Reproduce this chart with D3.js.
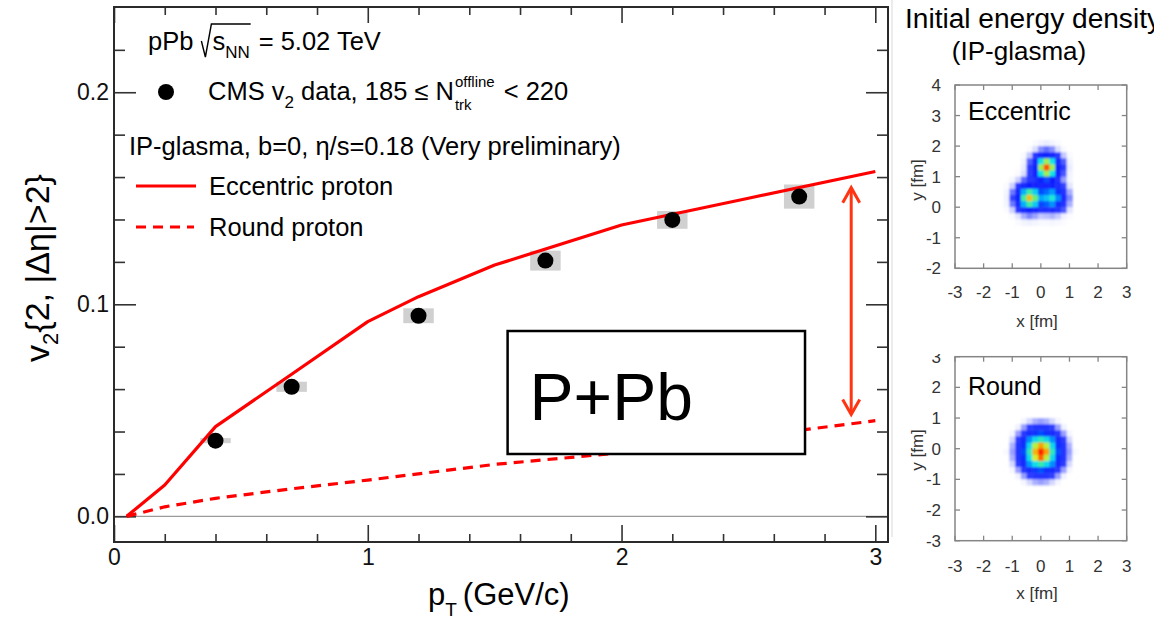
<!DOCTYPE html>
<html><head><meta charset="utf-8">
<script src="https://cdn.jsdelivr.net/npm/d3@7"></script>
<style>
html,body{margin:0;padding:0;background:#fff;}
svg{display:block;}
text{font-family:"Liberation Sans",Arial,Helvetica,sans-serif;}
</style></head><body>
<svg id="c" width="1154" height="620"></svg>
<script>
// ---------------- data ----------------
const cmsPt  = [0.4, 0.7, 1.2, 1.7, 2.2, 2.7];
const cmsV2  = [0.0357, 0.0611, 0.0946, 0.1206, 0.1398, 0.1508];
const cmsSys = [0.0012, 0.0024, 0.0035, 0.0047, 0.0042, 0.0057];
const cmsSysHalfWidth = 0.06;

const eccPt = [0.05, 0.2, 0.4, 0.7, 1.0, 1.2, 1.5, 2.0, 2.5, 3.0];
const eccV2 = [0, 0.0148, 0.0423, 0.067, 0.0918, 0.1036, 0.1185, 0.1374, 0.150, 0.1626];

const roundPt = [0.05, 0.2, 0.4, 0.7, 1.0, 1.5, 2.0, 2.5, 3.0];
const roundV2 = [0, 0.0045, 0.0085, 0.013, 0.0171, 0.0245, 0.0300, 0.0375, 0.0451];

const xMajorTicks = [0, 1, 2, 3];
const xMinorTicks = [0.2,0.4,0.6,0.8,1.2,1.4,1.6,1.8,2.2,2.4,2.6,2.8];
const yMajorTicks = [0.0, 0.1, 0.2];
const yMinorTicks = [0.02,0.04,0.06,0.08,0.12,0.14,0.16,0.18,0.22];

const arrowPt = 2.905, arrowTop = 0.155, arrowBottom = 0.048;
const boxPt = [1.551, 2.723], boxV2 = [0.0874, 0.0294];

// heat maps: energy density (arbitrary units 0..1), cell size 0.2 fm
const eccX = [-1.2,-1.0,-0.8,-0.6,-0.4,-0.2,0.0,0.2,0.4,0.6,0.8,1.0];
const eccY = [2.1,1.9,1.7,1.5,1.3,1.1,0.9,0.7,0.5,0.3,0.1,-0.1,-0.3,-0.5];
const eccVals = [
 [0,0,0,0,0,.004,.009,.012,.009,.004,0,0],
 [0,0,0,0,.004,.018,.045,.055,.045,.018,.004,0],
 [0,0,0,.004,.026,.103,.234,.307,.234,.103,.026,.004],
 [0,0,0,.009,.06,.234,.534,.70,.534,.234,.06,.009],
 [0,0,.001,.012,.078,.307,.70,.92,.70,.307,.078,.012],
 [0,0,.003,.017,.070,.242,.539,.705,.541,.239,.062,.009],
 [.001,.006,.022,.056,.095,.159,.271,.349,.282,.139,.041,.008],
 [.003,.022,.090,.203,.275,.244,.212,.240,.247,.166,.068,.015],
 [.008,.052,.203,.464,.613,.504,.352,.383,.435,.323,.140,.036],
 [.010,.068,.267,.609,.807,.655,.451,.486,.560,.418,.184,.047],
 [.008,.052,.203,.464,.613,.500,.343,.371,.426,.319,.140,.036],
 [.003,.022,.090,.203,.269,.218,.152,.162,.187,.140,.062,.015],
 [0,.004,.015,.036,.048,.039,.026,.029,.034,.025,.010,.003],
 [0,0,.003,.008,.010,.008,.005,.005,.007,.005,.002,0]
];
const rndX = [-1.2,-1.0,-0.8,-0.6,-0.4,-0.2,0.0,0.2,0.4,0.6,0.8,1.0,1.2];
const rndY = [1.1,0.9,0.7,0.5,0.3,0.1,-0.1,-0.3,-0.5,-0.7,-0.9,-1.1,-1.3];
const rndVals = [
 [0,0,0,0,0,0,0,0,0,0,0,0,0],
 [0,0,0,.007,.02,.035,.04,.035,.02,.007,0,0,0],
 [0,0,.01,.04,.07,.11,.12,.11,.07,.04,.01,0,0],
 [0,.007,.04,.09,.20,.32,.35,.32,.20,.09,.04,.007,0],
 [0,.02,.07,.20,.42,.52,.58,.52,.42,.20,.07,.02,0],
 [0,.035,.11,.32,.52,.72,.84,.72,.52,.32,.11,.035,0],
 [.005,.04,.12,.35,.58,.82,1.0,.84,.58,.35,.12,.04,.005],
 [0,.035,.11,.32,.53,.74,.90,.72,.52,.32,.11,.035,0],
 [0,.02,.07,.21,.43,.53,.60,.52,.42,.20,.07,.02,0],
 [0,.007,.04,.10,.21,.33,.36,.32,.20,.09,.04,.007,0],
 [0,0,.01,.04,.08,.12,.13,.11,.07,.04,.01,0,0],
 [0,0,0,.007,.02,.035,.04,.035,.02,.007,0,0,0],
 [0,0,0,0,0,0,0,0,0,0,0,0,0]
];
const heatXTicks = [-3,-2,-1,0,1,2,3];

// ---------------- drawing ----------------
const svg = d3.select('#c');
const FONT = '"Liberation Sans",Arial,Helvetica,sans-serif';

const x = d3.scaleLinear().domain([0, 3.05]).range([114, 888]);
const y = d3.scaleLinear().domain([-0.0121, 0.2402]).range([542, 7]);

const defs = svg.append('defs');
defs.append('clipPath').attr('id','plotclip').append('rect')
  .attr('x',114).attr('y',7).attr('width',774).attr('height',535);

// zero line
svg.append('line').attr('x1',x.range()[0]).attr('x2',x.range()[1])
  .attr('y1',y(0)).attr('y2',y(0)).attr('stroke','#9a9a9a').attr('stroke-width',1.3);

function styleAxis(sel){
  sel.select('.domain').remove();
  sel.selectAll('line').attr('stroke','#333').attr('stroke-width',1.6);
  sel.selectAll('text').attr('font-size',23).attr('fill','#111').attr('font-family',FONT);
}
// left
svg.append('g').attr('transform','translate(114,0)')
  .call(d3.axisLeft(y).tickValues(yMajorTicks).tickSize(-22).tickPadding(5).tickFormat(d3.format('.1f'))).call(styleAxis);
svg.append('g').attr('transform','translate(114,0)')
  .call(d3.axisLeft(y).tickValues(yMinorTicks).tickSize(-11).tickFormat('')).call(styleAxis);
// right
svg.append('g').attr('transform','translate(888,0)')
  .call(d3.axisRight(y).tickValues(yMajorTicks).tickSize(-22).tickFormat('')).call(styleAxis);
svg.append('g').attr('transform','translate(888,0)')
  .call(d3.axisRight(y).tickValues(yMinorTicks).tickSize(-11).tickFormat('')).call(styleAxis);
// bottom
svg.append('g').attr('transform','translate(0,542)')
  .call(d3.axisBottom(x).tickValues(xMajorTicks).tickSize(-17).tickPadding(7).tickFormat(d3.format('d'))).call(styleAxis);
svg.append('g').attr('transform','translate(0,542)')
  .call(d3.axisBottom(x).tickValues(xMinorTicks).tickSize(-8).tickFormat('')).call(styleAxis);
// top
svg.append('g').attr('transform','translate(0,7)')
  .call(d3.axisTop(x).tickValues(xMajorTicks).tickSize(-16).tickFormat('')).call(styleAxis);
svg.append('g').attr('transform','translate(0,7)')
  .call(d3.axisTop(x).tickValues(xMinorTicks).tickSize(-8).tickFormat('')).call(styleAxis);

// frame
svg.append('rect').attr('x',114).attr('y',7).attr('width',774).attr('height',535)
  .attr('fill','none').attr('stroke','#2a2a2a').attr('stroke-width',2);

const plot = svg.append('g').attr('clip-path','url(#plotclip)');

// systematic boxes
plot.selectAll('rect.sys').data(cmsPt).enter().append('rect').attr('class','sys')
  .attr('x',(d)=>x(d-cmsSysHalfWidth))
  .attr('width',(d)=>x(d+cmsSysHalfWidth)-x(d-cmsSysHalfWidth))
  .attr('y',(d,i)=>y(cmsV2[i]+cmsSys[i]))
  .attr('height',(d,i)=>y(cmsV2[i]-cmsSys[i])-y(cmsV2[i]+cmsSys[i]))
  .attr('fill','#d0d0d0');

const line = d3.line().x(d=>x(d[0])).y(d=>y(d[1]));
plot.append('path').datum(roundPt.map((p,i)=>[p,roundV2[i]]))
  .attr('d',line).attr('fill','none').attr('stroke','#ff0000').attr('stroke-width',3.2)
  .attr('stroke-dasharray','10,7');
plot.append('path').datum(eccPt.map((p,i)=>[p,eccV2[i]]))
  .attr('d',line).attr('fill','none').attr('stroke','#ff0000').attr('stroke-width',3.2)
  .attr('stroke-linejoin','round');

plot.selectAll('circle.pt').data(cmsPt).enter().append('circle').attr('class','pt')
  .attr('cx',d=>x(d)).attr('cy',(d,i)=>y(cmsV2[i])).attr('r',8).attr('fill','#000');

// P+Pb box
svg.append('rect').attr('x',x(boxPt[0])).attr('y',y(boxV2[0]))
  .attr('width',x(boxPt[1])-x(boxPt[0])).attr('height',y(boxV2[1])-y(boxV2[0]))
  .attr('fill','#fff').attr('stroke','#000').attr('stroke-width',2.5);
svg.append('text').attr('x',x(boxPt[0])+22).attr('y',y(boxV2[0])+89)
  .attr('font-family','"Open Sans",Lato,sans-serif').attr('font-size',66).attr('fill','#000')
  .text('P+Pb');

// double arrow
const ax = x(arrowPt), at = y(arrowTop), ab = y(arrowBottom);
const acol = '#ff3412';
svg.append('line').attr('x1',ax).attr('x2',ax).attr('y1',at+1).attr('y2',ab-1)
  .attr('stroke',acol).attr('stroke-width',3);
svg.append('polyline').attr('points',`${ax-8.5},${at+15} ${ax},${at} ${ax+8.5},${at+15}`)
  .attr('fill','none').attr('stroke',acol).attr('stroke-width',3);
svg.append('polyline').attr('points',`${ax-8.5},${ab-15} ${ax},${ab} ${ax+8.5},${ab-15}`)
  .attr('fill','none').attr('stroke',acol).attr('stroke-width',3);

// ---------------- legend ----------------
const L = svg.append('g');
const LFS = 25.5;
function put(t, px, py, fs, len){
  const e = L.append('text').attr('x',px).attr('y',py).attr('font-size',fs).attr('fill','#000').text(t);
  if(len){ e.attr('textLength',len).attr('lengthAdjust','spacingAndGlyphs'); return len; }
  return e.node().getComputedTextLength();
}
// line 1
let cx = 148;
cx += put('pPb', cx, 50, LFS) + 8;
const rx0 = cx;
cx += 11;
cx += put('s', cx, 50, LFS);
cx += put('NN', cx, 58, 17) + 1;
L.append('path').attr('d',`M${rx0},41 L${rx0+4},57 L${rx0+10},24 L${cx},24`)
  .attr('fill','none').attr('stroke','#000').attr('stroke-width',1.4);
cx += 8;
put('= 5.02 TeV', cx, 50, LFS);
// line 2
L.append('circle').attr('cx',166).attr('cy',92).attr('r',8).attr('fill','#000');
cx = 208;
cx += put('CMS v', cx, 100, LFS);
cx += put('2', cx, 108, 17) + 7;
cx += put('data, 185 \u2264 N', cx, 100, LFS) + 1;
const w1 = put('offline', cx, 87, 15);
const w2 = put('trk', cx, 110, 15);
cx += Math.max(w1,w2) + 9;
put('< 220', cx, 100, LFS);
// line 3
put('IP-glasma, b=0, \u03B7/s=0.18 (Very preliminary)', 129, 155, LFS);
// line 4/5
L.append('line').attr('x1',136).attr('x2',196).attr('y1',186).attr('y2',186)
  .attr('stroke','#ff0000').attr('stroke-width',3.2);
put('Eccentric proton', 209, 195, LFS);
L.append('line').attr('x1',136).attr('x2',194).attr('y1',227).attr('y2',227)
  .attr('stroke','#ff0000').attr('stroke-width',3.2).attr('stroke-dasharray','10,7');
put('Round proton', 209, 236, LFS);

// axis titles
const yt = svg.append('text').attr('transform','translate(49,268) rotate(-90)')
  .attr('text-anchor','middle').attr('font-size',34).attr('fill','#000');
yt.append('tspan').text('v');
yt.append('tspan').attr('dy',9).attr('font-size',22).text('2');
yt.append('tspan').attr('dy',-9).text('{2, |\u0394\u03B7|>2}');

const xt = svg.append('text').attr('x',428).attr('y',605).attr('font-size',31).attr('fill','#000');
xt.append('tspan').text('p');
xt.append('tspan').attr('dy',11).attr('font-size',19).text('T');
xt.append('tspan').attr('dy',-11).attr('dx',6).text('(GeV/c)');

// ---------------- heat maps ----------------
const color = d3.scaleLinear()
  .domain([0, .01, .035, .07, .3, .44, .54, .64, .75, .86, .96])
  .range(['#ffffff','#f0f2ff','#aab0ff','#2a3cff','#0a1cff','#00a0ff','#10e6e6','#50f080','#e0f020','#ff9000','#ff2000'])
  .clamp(true);
defs.append('filter').attr('id','soft').attr('x','-20%').attr('y','-20%').attr('width','140%').attr('height','140%')
  .append('feGaussianBlur').attr('stdDeviation',1.3);

svg.append('line').attr('x1',892).attr('x2',892).attr('y1',0).attr('y2',537)
  .attr('stroke','#e6e6e6').attr('stroke-width',1.5);

function heat(cfg){
  const g = svg.append('g');
  const hx = d3.scaleLinear().domain([-3,3]).range([955,1126.7]);
  const hy = d3.scaleLinear().domain(cfg.ydom).range([cfg.bottom, cfg.top]);
  const id = 'hc'+cfg.id;
  defs.append('clipPath').attr('id',id).append('rect')
    .attr('x',955).attr('y',cfg.top).attr('width',171.7).attr('height',cfg.bottom-cfg.top);
  const cells = [];
  cfg.ys.forEach((yy,r)=>cfg.xs.forEach((xx,c)=>cells.push({x:xx,y:yy,v:cfg.vals[r][c]})));
  g.append('g').attr('clip-path',`url(#${id})`).append('g').attr('filter','url(#soft)')
    .selectAll('rect').data(cells).enter().append('rect')
    .attr('x',d=>hx(d.x-0.1)).attr('y',d=>hy(d.y+0.1))
    .attr('width',d=>hx(d.x+0.1)-hx(d.x-0.1)+0.4).attr('height',d=>hy(d.y-0.1)-hy(d.y+0.1)+0.4)
    .attr('fill',d=>color(d.v));
  // frame
  g.append('rect').attr('x',955).attr('y',cfg.top).attr('width',171.7).attr('height',cfg.bottom-cfg.top)
    .attr('fill','none').attr('stroke','#858585').attr('stroke-width',1.5);
  const tk = '#858585';
  heatXTicks.forEach(v=>{
    g.append('line').attr('x1',hx(v)).attr('x2',hx(v)).attr('y1',cfg.bottom).attr('y2',cfg.bottom-5).attr('stroke',tk).attr('stroke-width',1.3);
    g.append('line').attr('x1',hx(v)).attr('x2',hx(v)).attr('y1',cfg.top).attr('y2',cfg.top+5).attr('stroke',tk).attr('stroke-width',1.3);
    g.append('text').attr('x',hx(v)).attr('y',cfg.xlabY).attr('text-anchor','middle')
      .attr('font-size',17).attr('fill','#333').text(v);
  });
  const lab = g.append('g').attr('clip-path',cfg.labClip ? `url(#${cfg.labClip})` : null);
  cfg.yticks.forEach(v=>{
    g.append('line').attr('x1',955).attr('x2',960).attr('y1',hy(v)).attr('y2',hy(v)).attr('stroke',tk).attr('stroke-width',1.3);
    g.append('line').attr('x1',1126.7).attr('x2',1121.7).attr('y1',hy(v)).attr('y2',hy(v)).attr('stroke',tk).attr('stroke-width',1.3);
    lab.append('text').attr('x',941).attr('y',hy(v)+6).attr('text-anchor','end')
      .attr('font-size',17).attr('fill','#333').text(v);
  });
  g.append('text').attr('x',1037).attr('y',cfg.xtitleY).attr('text-anchor','middle')
    .attr('font-size',17).attr('fill','#333').text('x [fm]');
  g.append('text').attr('transform',`translate(923,${cfg.ytitleY}) rotate(-90)`).attr('text-anchor','middle')
    .attr('font-size',17).attr('fill','#333').text('y [fm]');
  g.append('text').attr('x',968).attr('y',cfg.labelY).attr('font-size',25).attr('fill','#000').text(cfg.label);
}
defs.append('clipPath').attr('id','labclip2').append('rect').attr('x',900).attr('y',354).attr('width',60).attr('height',250);

svg.append('text').attr('x',905).attr('y',28).attr('font-size',27).attr('fill','#000')
  .attr('textLength',256).attr('lengthAdjust','spacingAndGlyphs').text('Initial energy density');
svg.append('text').attr('x',1019).attr('y',60).attr('text-anchor','middle').attr('font-size',26).attr('fill','#000')
  .text('(IP-glasma)');

heat({id:1, ydom:[-2,4], top:85, bottom:268.3, xs:eccX, ys:eccY, vals:eccVals,
      yticks:[-2,-1,0,1,2,3,4], xlabY:298, xtitleY:327, ytitleY:180, label:'Eccentric', labelY:120});
heat({id:2, ydom:[-3,3], top:356.7, bottom:540.7, xs:rndX, ys:rndY, vals:rndVals,
      yticks:[-3,-2,-1,0,1,2,3], xlabY:572, xtitleY:599, ytitleY:450, label:'Round', labelY:395, labClip:'labclip2'});
</script>
</body></html>
